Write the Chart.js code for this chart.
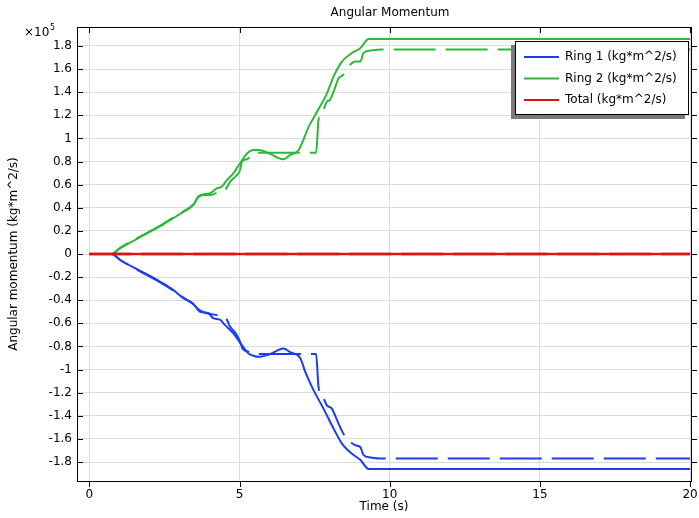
<!DOCTYPE html>
<html>
<head>
<meta charset="utf-8">
<style>
  html, body { margin: 0; padding: 0; background: #fff; }
</style>
<script src="https://cdn.jsdelivr.net/npm/chart.js@4"></script>
</head>
<body>
<canvas id="momentumChart" width="699" height="518"></canvas>
<script>
// values in units of 1e5 kg*m^2/s, time in s
const ring1SolidT = [0, 0.75, 1.02, 1.69, 2.36, 2.79, 3.12, 3.46, 3.69, 3.96, 4.12, 4.36, 4.52, 4.79, 5.08, 5.3, 5.46, 5.62, 6.02, 6.3, 6.46, 6.69, 7.02, 7.19, 7.41, 7.8, 8.13, 8.41, 8.8, 9.02, 9.3, 20];
const ring1SolidY = [0, 0, -0.052, -0.145, -0.24, -0.31, -0.38, -0.43, -0.5, -0.51, -0.555, -0.57, -0.615, -0.685, -0.79, -0.86, -0.88, -0.89, -0.866, -0.83, -0.817, -0.85, -0.9, -1.02, -1.15, -1.34, -1.51, -1.64, -1.74, -1.78, -1.86, -1.86];
const ring1DashT = [0, 0.75, 1.02, 1.69, 2.36, 2.79, 3.12, 3.46, 3.69, 3.96, 4.3, 4.52, 4.69, 4.91, 5.05, 5.1, 5.3, 5.55, 7.55, 7.63, 7.8, 7.91, 8.08, 8.25, 8.45, 8.69, 8.86, 9.02, 9.13, 9.36, 9.75, 20];
const ring1DashY = [0, 0, -0.05, -0.15, -0.245, -0.315, -0.375, -0.435, -0.49, -0.515, -0.53, -0.545, -0.63, -0.7, -0.78, -0.82, -0.845, -0.866, -0.866, -1.15, -1.25, -1.31, -1.34, -1.44, -1.55, -1.625, -1.655, -1.67, -1.74, -1.76, -1.77, -1.77];

const ring2SolidT = [0, 0.75, 1.0, 1.69, 2.36, 2.69, 3.14, 3.47, 3.63, 4.02, 4.25, 4.41, 4.58, 4.8, 5.02, 5.25, 5.47, 5.65, 6.02, 6.3, 6.46, 6.69, 6.97, 7.13, 7.3, 7.58, 7.91, 8.13, 8.41, 8.75, 9.02, 9.3, 20];
const ring2SolidY = [0, 0, 0.045, 0.145, 0.24, 0.294, 0.366, 0.424, 0.5, 0.525, 0.569, 0.583, 0.64, 0.7, 0.785, 0.87, 0.9, 0.9, 0.866, 0.83, 0.82, 0.857, 0.9, 0.99, 1.1, 1.23, 1.39, 1.535, 1.665, 1.74, 1.78, 1.86, 1.86];
const ring2DashT = [0, 0.75, 1.0, 1.69, 2.36, 2.69, 3.14, 3.47, 3.63, 3.8, 4.02, 4.3, 4.52, 4.69, 4.86, 5.02, 5.08, 5.25, 5.4, 5.55, 7.55, 7.63, 7.8, 7.91, 8.0, 8.13, 8.3, 8.45, 8.69, 8.86, 9.02, 9.13, 9.36, 9.75, 20];
const ring2DashY = [0, 0, 0.05, 0.15, 0.245, 0.3, 0.37, 0.43, 0.49, 0.51, 0.51, 0.535, 0.554, 0.626, 0.67, 0.727, 0.8, 0.82, 0.86, 0.875, 0.875, 1.16, 1.25, 1.32, 1.33, 1.405, 1.52, 1.55, 1.64, 1.665, 1.665, 1.74, 1.76, 1.77, 1.77];

const totalT = [0, 20];
const totalY = [0, 0];

const seriesNames = ['Ring 1 (kg*m^2/s)', 'Ring 2 (kg*m^2/s)', 'Total (kg*m^2/s)'];
const seriesColors = ['#1c3cf4', '#2db83a', '#de1515'];

const xTicks = [0, 5, 10, 15, 20];
const yTicks = [-1.8, -1.6, -1.4, -1.2, -1, -0.8, -0.6, -0.4, -0.2, 0, 0.2, 0.4, 0.6, 0.8, 1, 1.2, 1.4, 1.6, 1.8];

const FONT = 'DejaVu Sans';
const DASH = [42, 10];

function pts(t, y) {
  return t.map((v, i) => ({ x: v, y: y[i] }));
}

function line(data, color, dashed, width) {
  return {
    data: data,
    borderColor: color,
    borderWidth: width || 2,
    borderDash: dashed ? DASH : [],
    pointRadius: 0,
    fill: false,
    cubicInterpolationMode: 'monotone'
  };
}

// first dataset ends up on top, so total goes first
const datasets = [
  line(pts(totalT, totalY), seriesColors[2], true, 2.5),
  line(pts(totalT, totalY), seriesColors[2], false, 2.5),
  line(pts(ring1DashT, ring1DashY), seriesColors[0], true),
  line(pts(ring1SolidT, ring1SolidY), seriesColors[0], false),
  line(pts(ring2DashT, ring2DashY), seriesColors[1], true),
  line(pts(ring2SolidT, ring2SolidY), seriesColors[1], false)
];

// frame, ticks, title, exponent and the boxed legend
const framePlugin = {
  id: 'frame',
  afterDraw(chart) {
    const ctx = chart.ctx;
    const a = chart.chartArea;
    const xs = chart.scales.x, ys = chart.scales.y;
    ctx.save();
    ctx.strokeStyle = '#000';
    ctx.lineWidth = 1;
    ctx.strokeRect(Math.round(a.left) + 0.5, Math.round(a.top) + 0.5,
      Math.round(a.right - a.left), Math.round(a.bottom - a.top));

    ctx.beginPath();
    xTicks.forEach(v => {
      const px = Math.round(xs.getPixelForValue(v)) + 0.5;
      ctx.moveTo(px, a.top); ctx.lineTo(px, a.top + 6);
      ctx.moveTo(px, a.bottom); ctx.lineTo(px, a.bottom + 6);
    });
    yTicks.forEach(v => {
      const py = Math.round(ys.getPixelForValue(v)) + 0.5;
      ctx.moveTo(a.left, py); ctx.lineTo(a.left + 6, py);
      ctx.moveTo(a.right, py); ctx.lineTo(a.right + 6, py);
    });
    ctx.stroke();

    ctx.fillStyle = '#000';
    ctx.textBaseline = 'middle';
    ctx.textAlign = 'center';
    ctx.font = '12px "' + FONT + '"';
    ctx.fillText('Angular Momentum', 390, 13);

    ctx.textAlign = 'left';
    ctx.fillText('\u00d710', 24, 33);
    ctx.font = '8px "' + FONT + '"';
    ctx.fillText('5', 50, 28);

    // legend box with shadow
    const bx = 515, by = 41, bw = 174, bh = 74;
    ctx.fillStyle = '#7a7a7a';
    ctx.fillRect(bx - 4, by + 4, bw, bh);
    ctx.fillStyle = '#fff';
    ctx.fillRect(bx, by, bw, bh);
    ctx.strokeStyle = '#000';
    ctx.strokeRect(bx + 0.5, by + 0.5, bw - 1, bh - 1);
    ctx.font = '12px "' + FONT + '"';
    seriesNames.forEach((name, i) => {
      const ry = 57 + i * 21.5;
      ctx.strokeStyle = seriesColors[i];
      ctx.lineWidth = 2;
      ctx.beginPath();
      ctx.moveTo(524, ry); ctx.lineTo(559, ry);
      ctx.stroke();
      ctx.fillStyle = '#000';
      ctx.fillText(name, 565, ry);
    });
    ctx.restore();
  }
};

new Chart(document.getElementById('momentumChart').getContext('2d'), {
  type: 'line',
  data: { datasets: datasets },
  options: {
    responsive: false,
    animation: false,
    devicePixelRatio: 1,
    layout: { padding: { top: 27, right: 8, left: 0, bottom: 0 } },
    plugins: {
      legend: { display: false },
      tooltip: { enabled: false },
      title: { display: false }
    },
    scales: {
      x: {
        type: 'linear',
        min: -0.41,
        max: 20.03,
        afterBuildTicks: s => { s.ticks = xTicks.map(v => ({ value: v })); },
        afterFit: s => { s.height = 37; s.paddingLeft = 0; s.paddingRight = 0; },
        grid: { color: '#dcdcdc', drawTicks: false },
        border: { display: false },
        ticks: { color: '#000', padding: 7, maxRotation: 0, font: { family: FONT, size: 12 } },
        title: { display: true, text: 'Time (s)', color: '#000', padding: { top: 0, bottom: 4 }, font: { family: FONT, size: 12 } }
      },
      y: {
        type: 'linear',
        min: -1.964,
        max: 1.964,
        afterBuildTicks: s => { s.ticks = yTicks.map(v => ({ value: v })); },
        afterFit: s => { s.width = 77; s.paddingTop = 0; s.paddingBottom = 0; },
        grid: { color: '#dcdcdc', drawTicks: false },
        border: { display: false },
        ticks: {
          color: '#000', padding: 5, font: { family: FONT, size: 12 },
          callback: v => String(Number(v.toFixed(1)))
        },
        title: { display: true, text: 'Angular momentum (kg*m^2/s)', color: '#000', padding: { top: 7, bottom: 0 }, font: { family: FONT, size: 12 } }
      }
    }
  },
  plugins: [framePlugin]
});
</script>
</body>
</html>
